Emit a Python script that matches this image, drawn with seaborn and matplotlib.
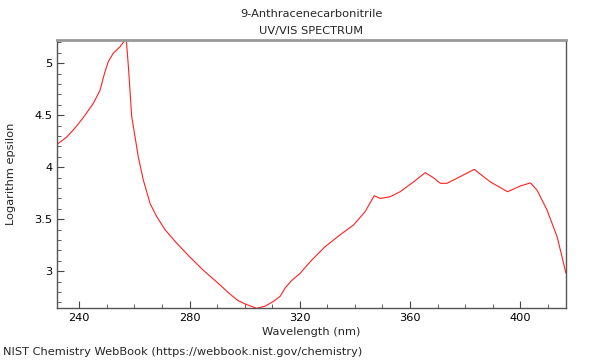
import numpy as np
import pandas as pd
import matplotlib
matplotlib.use("Agg")
import matplotlib.pyplot as plt
from matplotlib.ticker import MultipleLocator
import seaborn as sns

sns.set_style("ticks")
plt.rcParams["font.family"] = ["DejaVu Sans"]

# spectrum
wavelength = [231.9, 235.4, 238.5, 241.5, 245.1, 247.5, 249.0, 250.5, 252.3, 254.8,
              257.0, 257.8, 259.0, 261.4, 263.2, 265.7, 268.1, 271.1, 275.0, 280.0,
              285.0, 288.0, 291.0, 294.7, 297.5, 300.2, 304.4, 307.5, 310.4, 312.9,
              314.7, 317.0, 320.1, 324.4, 329.2, 334.6, 339.5, 343.7, 347.0, 349.2,
              352.8, 356.4, 361.3, 365.5, 368.5, 371.0, 373.4, 378.2, 383.3, 389.1,
              395.4, 400.0, 403.7, 406.1, 409.7, 413.4, 416.6]
log_eps = [4.22, 4.29, 4.38, 4.48, 4.615, 4.74, 4.89, 5.015, 5.096, 5.16,
           5.24, 4.97, 4.49, 4.10, 3.88, 3.65, 3.525, 3.40, 3.28, 3.14,
           3.01, 2.94, 2.87, 2.78, 2.72, 2.685, 2.644, 2.665, 2.71, 2.76,
           2.84, 2.91, 2.98, 3.11, 3.237, 3.35, 3.445, 3.573, 3.727, 3.70,
           3.717, 3.765, 3.86, 3.948, 3.90, 3.846, 3.846, 3.91, 3.98, 3.86,
           3.765, 3.82, 3.85, 3.78, 3.59, 3.33, 2.98]

df = pd.DataFrame({"wavelength": wavelength, "log_eps": log_eps})

fig = plt.figure(figsize=(6, 3.6), dpi=100)
ax = fig.add_axes([57 / 600, 1 - 308 / 360, 509 / 600, 268 / 360])

sns.lineplot(data=df, x="wavelength", y="log_eps", ax=ax, color="#ff2020",
             linewidth=0.8, sort=False, estimator=None)

ax.set_xlim(231.9, 416.6)
ax.set_ylim(2.647, 5.224)
ax.xaxis.set_major_locator(MultipleLocator(40))
ax.xaxis.set_minor_locator(MultipleLocator(10))
ax.yaxis.set_major_locator(MultipleLocator(0.5))
ax.yaxis.set_minor_locator(MultipleLocator(0.1))
ax.set_yticks([3, 3.5, 4, 4.5, 5])
ax.set_yticklabels(["3", "3.5", "4", "4.5", "5"])
ax.tick_params(which="both", direction="in", colors="#444444", labelcolor="black",
               labelsize=8.2, top=False, right=False)
ax.tick_params(which="major", length=5)
ax.tick_params(which="minor", length=3)

for side in ["left", "bottom", "right"]:
    ax.spines[side].set_color("#555555")
    ax.spines[side].set_linewidth(1.0)
ax.spines["top"].set_color("#999999")
ax.spines["top"].set_linewidth(2.0)

ax.set_xlabel("Wavelength (nm)", fontsize=8.2, labelpad=3)
ax.set_ylabel("Logarithm epsilon", fontsize=8.2, labelpad=13)
ax.set_title("9-Anthracenecarbonitrile\nUV/VIS SPECTRUM", fontsize=8.2,
             linespacing=1.9, pad=4)

fig.text(3 / 600, 1 - 352 / 360, "NIST Chemistry WebBook (https://webbook.nist.gov/chemistry)",
         fontsize=8.2, ha="left", va="center")

fig.savefig("out.png", dpi=100)
